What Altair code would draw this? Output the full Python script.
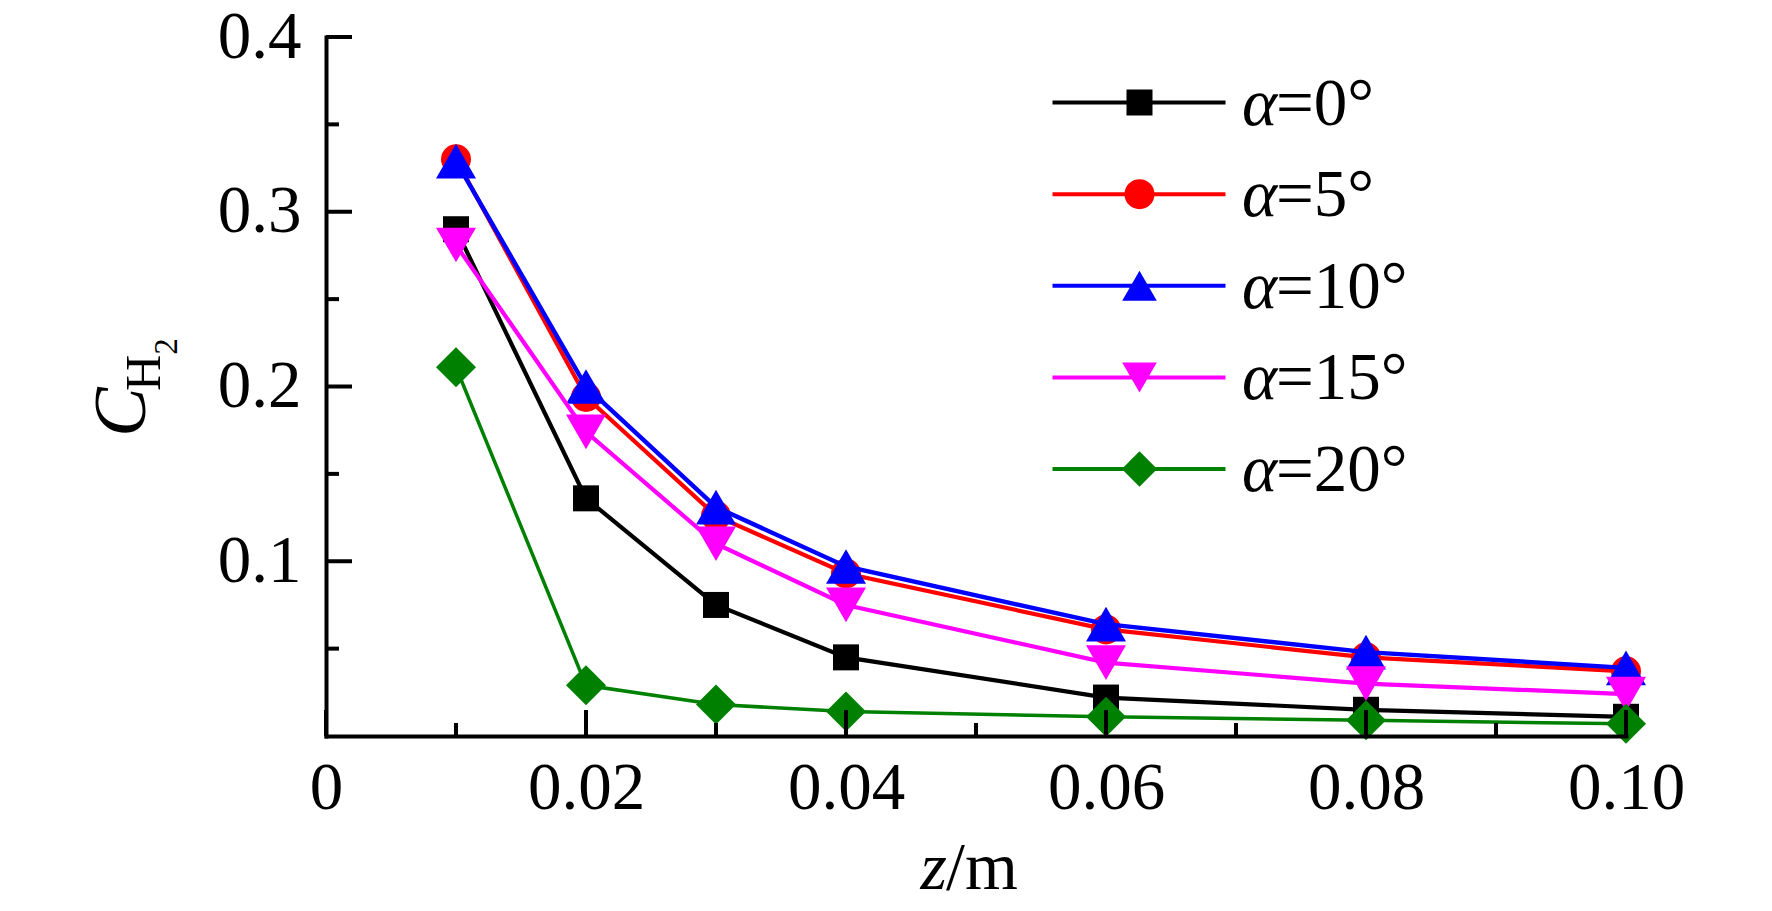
import altair as alt
import pandas as pd

# ---------------- data ----------------
z = [0.01, 0.02, 0.03, 0.04, 0.06, 0.08, 0.10]
angles = [0, 5, 10, 15, 20]
c_a0 = [0.290, 0.136, 0.075, 0.045, 0.022, 0.015, 0.011]
c_a5 = [0.330, 0.194, 0.126, 0.093, 0.061, 0.045, 0.037]
c_a10 = [0.329, 0.200, 0.131, 0.097, 0.064, 0.048, 0.039]
c_a15 = [0.281, 0.174, 0.110, 0.075, 0.042, 0.030, 0.024]
c_a20 = [0.211, 0.029, 0.018, 0.014, 0.011, 0.009, 0.007]
series_values = [c_a0, c_a5, c_a10, c_a15, c_a20]

x_major = [0, 0.02, 0.04, 0.06, 0.08, 0.10]
x_minor = [0.01, 0.03, 0.05, 0.07, 0.09]
y_major = [0.1, 0.2, 0.3, 0.4]
y_minor = [0.05, 0.15, 0.25, 0.35]

names = [f"a{a}" for a in angles]
legend_labels = [f"={a}\u00b0" for a in angles]

# ---------------- style ----------------
colors = ["#000000", "#ff0000", "#0000ff", "#ff00ff", "#008000"]
shapes = ["square", "circle", "triangle-up", "triangle-down", "diamond"]
sizes_plot = [676, 900, 1600, 1600, 1600]
sizes_leg = [676, 900, 1200, 1200, 1250]
line_w = [4.2, 4.2, 4.4, 4.2, 3.5]
FONT = "Liberation Serif"
W, H = 1300, 699

rows = []
for n, vals in zip(names, series_values):
    for zz, cc in zip(z, vals):
        rows.append({"series": n, "z": zz, "c": cc})
df = pd.DataFrame(rows)

xs = alt.Scale(domain=[0, 0.1], nice=False, zero=False)
ys = alt.Scale(domain=[0, 0.4], nice=False, zero=False)

common_axis = dict(
    title=None, grid=False, ticks=False, tickSize=0,
    domainColor="black", domainWidth=4, domainCap="square",
    labelFont=FONT, labelFontSize=67, labelColor="black",
    labelFlush=False, labelOverlap=False, labelBound=False, zindex=1,
)
xaxis = alt.Axis(
    values=x_major,
    labelExpr="datum.value == 0 ? '0' : format(datum.value, '.2f')",
    labelPadding=72, labelBaseline="alphabetic", **common_axis,
)
yaxis = alt.Axis(values=y_major, format=".1f", labelPadding=25, **common_axis)

color_enc = alt.Color("series:N", scale=alt.Scale(domain=names, range=colors), legend=None)
shape_enc = alt.Shape("series:N", scale=alt.Scale(domain=names, range=shapes), legend=None)

X = alt.X("z:Q", scale=xs, axis=xaxis)
Y = alt.Y("c:Q", scale=ys, axis=yaxis)

layers = []
for i, n in enumerate(names):
    base = alt.Chart(df).transform_filter(alt.datum.series == n)
    layers.append(base.mark_line(strokeWidth=line_w[i]).encode(x=X, y=Y, color=color_enc))
    layers.append(
        base.mark_point(filled=True, opacity=1, strokeWidth=0, size=sizes_plot[i]).encode(
            x=X, y=Y, color=color_enc, shape=shape_enc
        )
    )

# inward axis ticks
def xticks(vals, length):
    return alt.Chart(pd.DataFrame({"v": vals})).mark_rule(strokeWidth=4, color="black").encode(
        x=alt.X("v:Q", scale=xs, axis=xaxis), y=alt.value(H), y2=alt.value(H - length)
    )

def yticks(vals, length):
    return alt.Chart(pd.DataFrame({"v": vals})).mark_rule(strokeWidth=4, color="black").encode(
        y=alt.Y("v:Q", scale=ys, axis=yaxis), x=alt.value(0), x2=alt.value(length)
    )

layers += [xticks(x_major, 26), xticks(x_minor, 13), yticks(y_major, 26), yticks(y_minor, 13)]

# axis titles
def txt(s, x, y, size, style="normal", align="center", angle=0):
    kw = dict(font=FONT, fontSize=size, fontStyle=style, align=align,
              baseline="alphabetic", color="black")
    if angle:
        kw["angle"] = angle
    return alt.Chart(pd.DataFrame({"t": [s]})).mark_text(**kw).encode(
        x=alt.value(x), y=alt.value(y), text="t:N"
    )

layers += [
    txt("C", -181.5, 375, 74, "italic", "center", 270),
    txt("H", -166.5, 336, 50, "normal", "center", 270),
    txt("2", -149.5, 309.5, 33, "normal", "center", 270),
    txt("z", 621, 852, 68, "italic", "right"),
    txt("/m", 620, 852, 68, "normal", "left"),
]

main = alt.layer(*layers)

# legend
leg = pd.DataFrame({"row": list(range(len(names))), "series": names, "lab": legend_labels})
YR = alt.Y("row:Q", scale=alt.Scale(domain=[0, 4], range=[65.5, 432]), axis=None)
lbase = alt.Chart(leg)
leg_layers = [
    lbase.mark_rule(strokeWidth=4).encode(
        x=alt.value(726.5), x2=alt.value(899.5), y=YR, color=color_enc
    )
]
for i, n in enumerate(names):
    leg_layers.append(
        lbase.transform_filter(alt.datum.series == n)
        .mark_point(filled=True, opacity=1, strokeWidth=0, size=sizes_leg[i])
        .encode(x=alt.value(813.5), y=YR, color=color_enc, shape=shape_enc)
    )
leg_layers.append(
    lbase.mark_text(
        font=FONT, fontSize=67, fontStyle="italic", align="left", baseline="alphabetic",
        dy=22, color="black", text="\u03b1",
    ).encode(x=alt.value(916), y=YR)
)
leg_layers.append(
    lbase.mark_text(
        font=FONT, fontSize=67, align="left", baseline="alphabetic", dy=22, color="black"
    ).encode(x=alt.value(950), y=YR, text="lab:N")
)
legend = alt.layer(*leg_layers)

chart = (
    alt.layer(main, legend)
    .resolve_scale(y="independent")
    .properties(
        width=W, height=H,
        padding={"left": 318, "top": 29, "right": 130, "bottom": 174},
        autosize=alt.AutoSizeParams(type="none"),
        background="white",
    )
    .configure_view(stroke=None)
)

chart.save("out.html", embed_options={"renderer": "svg", "actions": False})
